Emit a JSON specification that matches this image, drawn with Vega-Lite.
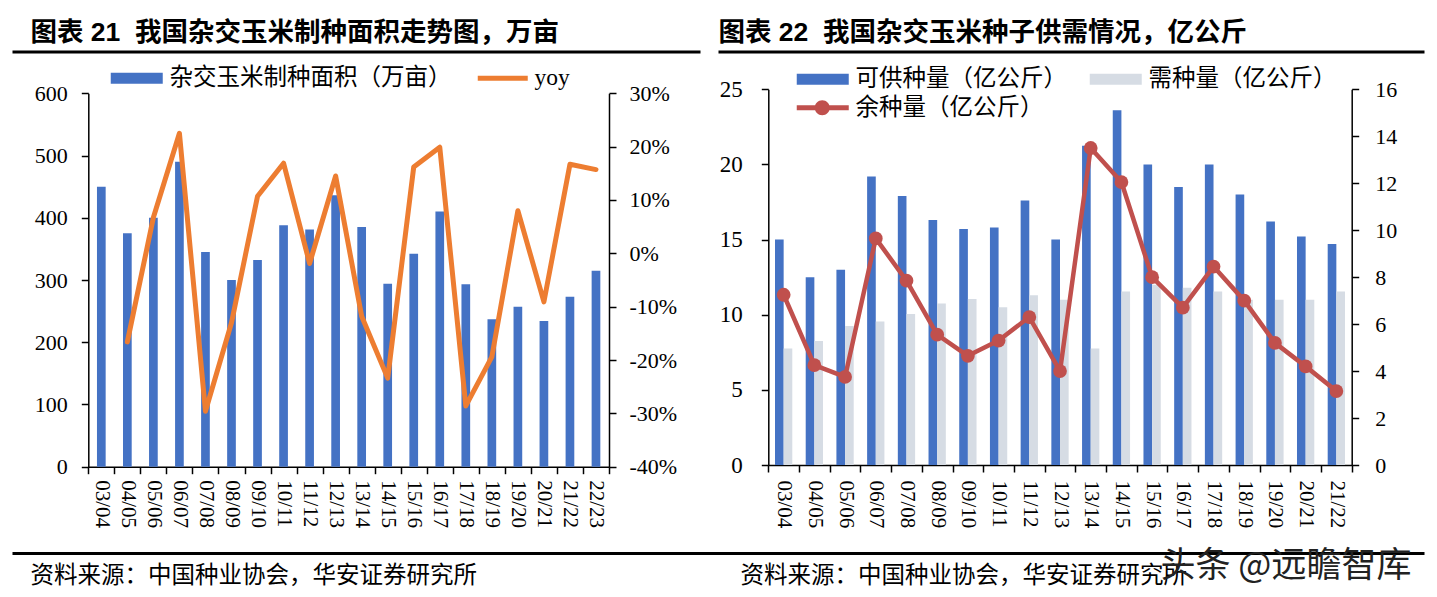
{
  "$schema": "https://vega.github.io/schema/vega-lite/v6.json",
  "width": 1437,
  "height": 597,
  "autosize": {"type": "none"},
  "padding": 0,
  "background": "white",
  "config": {
    "view": {"stroke": null},
    "axis": {"grid": false, "domainColor": "black", "tickColor": "black", "labelColor": "black", "labelFont": "Liberation Serif", "titleColor": "black", "domainWidth": 1.5, "tickWidth": 1.5, "tickSize": 7}
  },
  "datasets": {
    "area": [
      {"year": "03/04", "area": 450, "yoy": null},
      {"year": "04/05", "area": 375, "yoy": -0.166},
      {"year": "05/06", "area": 400, "yoy": 0.067},
      {"year": "06/07", "area": 490, "yoy": 0.225},
      {"year": "07/08", "area": 345, "yoy": -0.296},
      {"year": "08/09", "area": 300, "yoy": -0.13},
      {"year": "09/10", "area": 332, "yoy": 0.107},
      {"year": "10/11", "area": 388, "yoy": 0.169},
      {"year": "11/12", "area": 381, "yoy": -0.019},
      {"year": "12/13", "area": 436, "yoy": 0.145},
      {"year": "13/14", "area": 385, "yoy": -0.118},
      {"year": "14/15", "area": 294, "yoy": -0.234},
      {"year": "15/16", "area": 342, "yoy": 0.162},
      {"year": "16/17", "area": 410, "yoy": 0.199},
      {"year": "17/18", "area": 293, "yoy": -0.286},
      {"year": "18/19", "area": 237, "yoy": -0.194},
      {"year": "19/20", "area": 257, "yoy": 0.08},
      {"year": "20/21", "area": 234, "yoy": -0.091},
      {"year": "21/22", "area": 273, "yoy": 0.167},
      {"year": "22/23", "area": 315, "yoy": 0.157}
    ],
    "seed": [
      {"year": "03/04", "supply": 15.0, "demand": 7.75, "surplus": 7.25},
      {"year": "04/05", "supply": 12.5, "demand": 8.25, "surplus": 4.25},
      {"year": "05/06", "supply": 13.0, "demand": 9.25, "surplus": 3.75},
      {"year": "06/07", "supply": 19.2, "demand": 9.55, "surplus": 9.65},
      {"year": "07/08", "supply": 17.9, "demand": 10.05, "surplus": 7.85},
      {"year": "08/09", "supply": 16.3, "demand": 10.75, "surplus": 5.55},
      {"year": "09/10", "supply": 15.7, "demand": 11.05, "surplus": 4.65},
      {"year": "10/11", "supply": 15.8, "demand": 10.5, "surplus": 5.3},
      {"year": "11/12", "supply": 17.6, "demand": 11.3, "surplus": 6.3},
      {"year": "12/13", "supply": 15.0, "demand": 11.0, "surplus": 4.0},
      {"year": "13/14", "supply": 21.25, "demand": 7.75, "surplus": 13.5},
      {"year": "14/15", "supply": 23.6, "demand": 11.55, "surplus": 12.05},
      {"year": "15/16", "supply": 20.0, "demand": 12.0, "surplus": 8.0},
      {"year": "16/17", "supply": 18.5, "demand": 11.8, "surplus": 6.7},
      {"year": "17/18", "supply": 20.0, "demand": 11.55, "surplus": 8.45},
      {"year": "18/19", "supply": 18.0, "demand": 11.0, "surplus": 7.0},
      {"year": "19/20", "supply": 16.2, "demand": 11.0, "surplus": 5.2},
      {"year": "20/21", "supply": 15.2, "demand": 11.0, "surplus": 4.2},
      {"year": "21/22", "supply": 14.7, "demand": 11.55, "surplus": 3.15}
    ]
  },
  "layer": [
    {
      "data": {"name": "area"},
      "layer": [
        {
          "mark": {"type": "bar", "width": {"band": 0.334}},
          "encoding": {
            "x": {"field": "year", "type": "ordinal", "sort": null,
              "scale": {"range": [88.3, 609], "paddingInner": 0, "paddingOuter": 0},
              "axis": {"orient": "bottom", "offset": -130.3, "title": null, "labelAngle": 90, "labelFontSize": 21, "labelPadding": 6, "tickBand": "extent", "labelOverlap": false}},
            "y": {"field": "area", "type": "quantitative",
              "scale": {"domain": [0, 600], "range": [466.7, 93.3], "nice": false},
              "axis": {"orient": "left", "offset": -88.3, "values": [0, 100, 200, 300, 400, 500, 600], "title": null, "labelFontSize": 22, "labelPadding": 14}},
            "color": {"datum": "area",
              "scale": {"domain": ["area", "yoy"], "range": ["#4472C4", "#ED7D31"]},
              "legend": {"orient": "none", "legendX": 141, "legendY": 66, "direction": "horizontal", "title": null,
                "labelExpr": "datum.value == 'area' ? '杂交玉米制种面积（万亩）' : 'yoy'",
                "labelFont": "Liberation Serif, Noto Sans CJK SC", "labelFontSize": 23.5, "labelColor": "black", "labelOffset": 5, "labelLimit": 500, "columnPadding": 25, "padding": 0, "symbolSize": 400, "symbolStrokeWidth": 0,
                "encode": {"symbols": {"update": {
                  "shape": {"signal": "datum.value == 'area' ? 'M-4.2,-0.55H1V0.55H-4.2Z' : 'M-4,-0.25H1V0.25H-4Z'"},
                  "fill": {"signal": "datum.value == 'area' ? '#4472C4' : '#ED7D31'"},
                  "stroke": {"value": "transparent"}, "opacity": {"value": 1}}}}}}
          }
        },
        {
          "mark": {"type": "line", "strokeWidth": 5, "strokeCap": "round", "strokeJoin": "round"},
          "encoding": {
            "x": {"field": "year", "type": "ordinal", "sort": null},
            "y": {"field": "yoy", "type": "quantitative",
              "scale": {"domain": [-0.4, 0.3], "range": [466.7, 93.3], "nice": false, "zero": false},
              "axis": {"orient": "right", "offset": -828, "values": [-0.4, -0.3, -0.2, -0.1, 0, 0.1, 0.2, 0.3], "title": null, "labelFontSize": 22, "labelPadding": 13,
                "labelExpr": "(datum.value < -0.0001 ? '-' : '') + round(abs(datum.value) * 100) + '%'"}},
            "color": {"datum": "yoy"}
          }
        }
      ],
      "resolve": {"scale": {"y": "independent"}}
    },
    {
      "data": {"name": "seed"},
      "layer": [
        {
          "transform": [{"fold": ["supply", "demand"], "as": ["series", "val"]}],
          "mark": {"type": "bar"},
          "encoding": {
            "x": {"field": "year", "type": "ordinal", "sort": null,
              "scale": {"range": [768.3, 1351.7], "paddingInner": 0, "paddingOuter": 0},
              "axis": {"orient": "bottom", "offset": -132, "title": null, "labelAngle": 90, "labelFontSize": 21, "labelPadding": 8, "tickBand": "extent", "labelOverlap": false}},
            "xOffset": {"field": "series", "sort": ["supply", "demand"], "scale": {"paddingInner": 0, "paddingOuter": 0.775}},
            "y": {"field": "val", "type": "quantitative",
              "scale": {"domain": [0, 25], "range": [465, 89.3], "nice": false},
              "axis": {"orient": "left", "offset": -768.3, "values": [0, 5, 10, 15, 20, 25], "title": null, "labelFontSize": 23, "labelPadding": 19}},
            "color": {"field": "series", "type": "nominal",
              "scale": {"domain": ["supply", "demand", "surplus"], "range": ["#4472C4", "#D6DCE4", "#C0504D"]},
              "legend": {"orient": "none", "legendX": 827, "legendY": 67, "columns": 2, "direction": "horizontal", "title": null,
                "labelExpr": "datum.value == 'supply' ? '可供种量（亿公斤）' : datum.value == 'demand' ? '需种量（亿公斤）' : '余种量（亿公斤）'",
                "labelFont": "Liberation Serif, Noto Sans CJK SC", "labelFontSize": 23.5, "labelColor": "black", "labelOffset": 5, "labelLimit": 500, "columnPadding": 22, "rowPadding": 4, "padding": 0, "symbolSize": 400, "symbolStrokeWidth": 0,
                "encode": {"symbols": {"update": {
                  "shape": {"signal": "datum.value == 'surplus' ? 'M-4.2,-0.24H1V0.24H-4.2Z M-0.9,0 A0.75,0.75 0 1,1 -2.4,0 A0.75,0.75 0 1,1 -0.9,0 Z' : 'M-4.2,-0.55H1V0.55H-4.2Z'"},
                  "fill": {"signal": "datum.value == 'supply' ? '#4472C4' : datum.value == 'demand' ? '#D6DCE4' : '#C0504D'"},
                  "stroke": {"value": "transparent"}, "opacity": {"value": 1}}}}}}
          }
        },
        {
          "layer": [
            {
              "mark": {"type": "line", "strokeWidth": 4.5, "strokeJoin": "round"},
              "encoding": {
                "x": {"field": "year", "type": "ordinal", "sort": null},
                "y": {"field": "surplus", "type": "quantitative",
                  "scale": {"domain": [0, 16], "range": [465, 89.3], "nice": false},
                  "axis": {"orient": "right", "offset": -85.3, "values": [0, 2, 4, 6, 8, 10, 12, 14, 16], "title": null, "labelFontSize": 22, "labelPadding": 16}},
                "color": {"datum": "surplus"}
              }
            },
            {
              "mark": {"type": "point", "filled": true, "size": 190, "opacity": 1},
              "encoding": {
                "x": {"field": "year", "type": "ordinal", "sort": null},
                "y": {"field": "surplus", "type": "quantitative"},
                "color": {"datum": "surplus"}
              }
            }
          ]
        }
      ],
      "resolve": {"scale": {"y": "independent"}}
    },
    {
      "data": {"values": [{}]},
      "mark": {"type": "rule", "opacity": 0},
      "encoding": {
        "x": {"datum": 0, "type": "quantitative", "scale": {"domain": [0, 1], "range": [12, 700]},
          "axis": {"orient": "top", "offset": -51.5, "domainWidth": 3, "ticks": false, "labels": false,
            "title": "图表 21 \u00a0我国杂交玉米制种面积走势图，万亩", "titleFont": "Liberation Sans, Noto Sans CJK SC", "titleFontSize": 26.5, "titleFontWeight": "bold",
            "titleX": 30, "titleY": -19.5, "titleAlign": "left", "titleBaseline": "middle", "titleAngle": 0}},
        "x2": {"datum": 1}
      }
    },
    {
      "data": {"values": [{}]},
      "mark": {"type": "rule", "opacity": 0},
      "encoding": {
        "x": {"datum": 0, "type": "quantitative", "scale": {"domain": [0, 1], "range": [718, 1424]},
          "axis": {"orient": "top", "offset": -51.5, "domainWidth": 3, "ticks": false, "labels": false,
            "title": "图表 22 \u00a0我国杂交玉米种子供需情况，亿公斤", "titleFont": "Liberation Sans, Noto Sans CJK SC", "titleFontSize": 26.5, "titleFontWeight": "bold",
            "titleX": 718, "titleY": -19.5, "titleAlign": "left", "titleBaseline": "middle", "titleAngle": 0}},
        "x2": {"datum": 1}
      }
    },
    {
      "data": {"values": [{}]},
      "mark": {"type": "rule", "opacity": 0},
      "encoding": {
        "x": {"datum": 0, "type": "quantitative", "scale": {"domain": [0, 1], "range": [12, 1424]},
          "axis": {"orient": "bottom", "offset": -44, "domainWidth": 3, "ticks": false, "labels": false,
            "title": "资料来源：中国种业协会，华安证券研究所", "titleFont": "Noto Sans CJK SC", "titleFontSize": 23.5, "titleFontWeight": "normal",
            "titleX": 30, "titleY": 22, "titleAlign": "left", "titleBaseline": "middle", "titleAngle": 0}},
        "x2": {"datum": 1},
        "y": {"datum": 0, "type": "quantitative", "scale": {"domain": [0, 1]},
          "axis": {"orient": "left", "offset": 0, "domain": false, "ticks": false, "labels": false,
            "title": "头条 @远瞻智库", "titleFont": "Noto Sans CJK SC", "titleFontSize": 35, "titleFontWeight": "normal", "titleColor": "#222222",
            "titleX": 1160, "titleY": 565, "titleAlign": "left", "titleBaseline": "middle", "titleAngle": 0}}
      }
    },
    {
      "data": {"values": [{}]},
      "mark": {"type": "rule", "opacity": 0},
      "encoding": {
        "x": {"datum": 0, "type": "quantitative", "scale": {"domain": [0, 1], "range": [720, 1424]},
          "axis": {"orient": "bottom", "offset": -44, "domain": false, "ticks": false, "labels": false,
            "title": "资料来源：中国种业协会，华安证券研究所", "titleFont": "Noto Sans CJK SC", "titleFontSize": 23.5, "titleFontWeight": "normal",
            "titleX": 740, "titleY": 22, "titleAlign": "left", "titleBaseline": "middle", "titleAngle": 0}},
        "x2": {"datum": 1}
      }
    }
  ],
  "resolve": {"scale": {"x": "independent", "y": "independent", "color": "independent", "xOffset": "independent"}}
}
